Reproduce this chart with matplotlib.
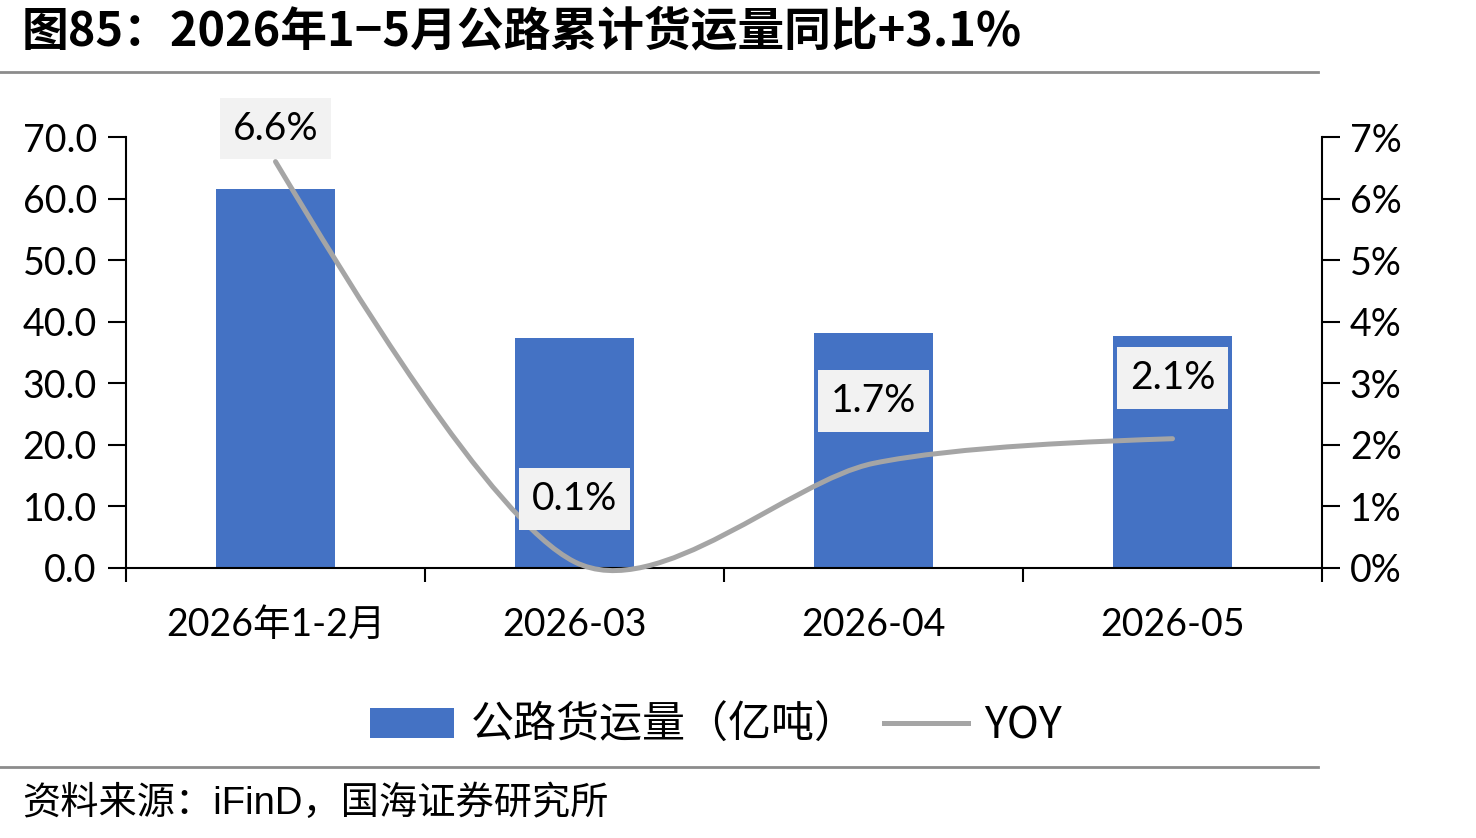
import numpy as np
import matplotlib
matplotlib.use("Agg")
import matplotlib.pyplot as plt
from matplotlib.path import Path
from matplotlib.patches import PathPatch, Patch
from matplotlib.lines import Line2D

# data
categories = ["2026年1-2月", "2026-03", "2026-04", "2026-05"]
freight = [61.6, 37.4, 38.2, 37.7]      # 公路货运量（亿吨）
yoy = [6.6, 0.1, 1.7, 2.1]              # YOY, %
yoy_labels = ["6.6%", "0.1%", "1.7%", "2.1%"]

BLUE = "#4472C4"
GREY = "#A5A5A5"
FS = 27

plt.rcParams["font.family"] = ["Lato", "Noto Sans CJK SC"]

W, H = 1476, 838
fig = plt.figure(figsize=(W / 100, H / 100), dpi=100)
ax = fig.add_axes([126 / W, 1 - 568 / H, (1322 - 126) / W, (568 - 137) / H])
ax2 = ax.twinx()

x = np.arange(len(categories))
ax.bar(x, freight, width=0.4, color=BLUE, zorder=2)

ax.set_xlim(-0.5, len(categories) - 0.5)
ax.set_ylim(0, 70)
ax.set_yticks(np.arange(0, 71, 10))
ax.set_yticklabels([f"{v:.1f}" for v in np.arange(0, 71, 10)])
ax2.set_ylim(0, 7)
ax2.set_yticks(range(8))
ax2.set_yticklabels([f"{v}%" for v in range(8)])

# category boundaries as major ticks, names as minor ticks
ax.set_xticks(np.arange(-0.5, len(categories), 1.0))
ax.set_xticklabels([])
ax.set_xticks(x, minor=True)
ax.set_xticklabels(categories, minor=True)

ax.tick_params(axis="y", direction="out", length=13, width=1.5, labelsize=FS, pad=8)
ax2.tick_params(axis="y", direction="out", length=13, width=1.5, labelsize=FS, pad=7)
ax.tick_params(axis="x", which="major", length=10, width=1.5)
ax.tick_params(axis="x", which="minor", length=0, labelsize=FS, pad=28)

for a in (ax, ax2):
    a.spines["top"].set_visible(False)
    for s in a.spines.values():
        s.set_linewidth(1.5)
ax.spines["right"].set_visible(False)
ax2.spines["left"].set_visible(False)
ax2.spines["bottom"].set_visible(False)

# smoothed line (Excel-like bezier)
k = 0.14
pts = np.column_stack([x, yoy]).astype(float)
n = len(pts)
verts = [pts[0]]
codes = [Path.MOVETO]
for i in range(n - 1):
    p0 = pts[max(i - 1, 0)]
    p1 = pts[i]
    p2 = pts[i + 1]
    p3 = pts[min(i + 2, n - 1)]
    c1 = p1 + (p2 - p0) * k
    c2 = p2 - (p3 - p1) * k
    if i == 0:
        c1 = p1 + (c2 - p1) / 3
    if i == n - 2:
        c2 = p2 + (c1 - p2) / 3
    verts += [c1, c2, p2]
    codes += [Path.CURVE4] * 3
curve = PathPatch(Path(verts, codes), facecolor="none", edgecolor=GREY,
                  lw=3.6, capstyle="round", zorder=3, clip_on=False)
ax2.add_patch(curve)

label_offsets = [33, 63, 62, 61]  # pixels above the point
for xi, yi, lbl, off in zip(x, yoy, yoy_labels, label_offsets):
    ax2.annotate(lbl, (xi, yi), xytext=(0, off), textcoords="offset pixels",
                 ha="center", va="center", fontsize=28, zorder=5,
                 bbox=dict(boxstyle="square,pad=0.33", fc="#F2F2F2", ec="none"))

handles = [Patch(facecolor=BLUE), Line2D([], [], color=GREY, lw=3.6)]
fig.legend(handles, ["公路货运量（亿吨）", "YOY"], ncol=2, loc="center",
           bbox_to_anchor=(716 / W, 1 - 726 / H), frameon=False,
           prop={"family": ["Noto Sans CJK SC"], "size": 31},
           handlelength=1.95, handletextpad=0.38, columnspacing=0.6)

# title, rules and source
fig.text(22 / W, 1 - 31 / H, "图85：2026年1−5月公路累计货运量同比+3.1%",
         fontsize=33.7, fontweight="bold", ha="left", va="center",
         family=["Liberation Sans Narrow", "Noto Sans CJK SC"])
fig.add_artist(Line2D([0, 1318 / W], [1 - 72 / H] * 2, color="#8C8C8C", lw=2))
fig.add_artist(Line2D([0, 1318 / W], [1 - 767 / H] * 2, color="#8C8C8C", lw=2))
fig.text(22 / W, 1 - 804 / H, "资料来源：iFinD，国海证券研究所", fontsize=27.5,
         ha="left", va="center", family=["Liberation Sans", "Noto Sans CJK SC"])

fig.savefig("out.png", dpi=100)
